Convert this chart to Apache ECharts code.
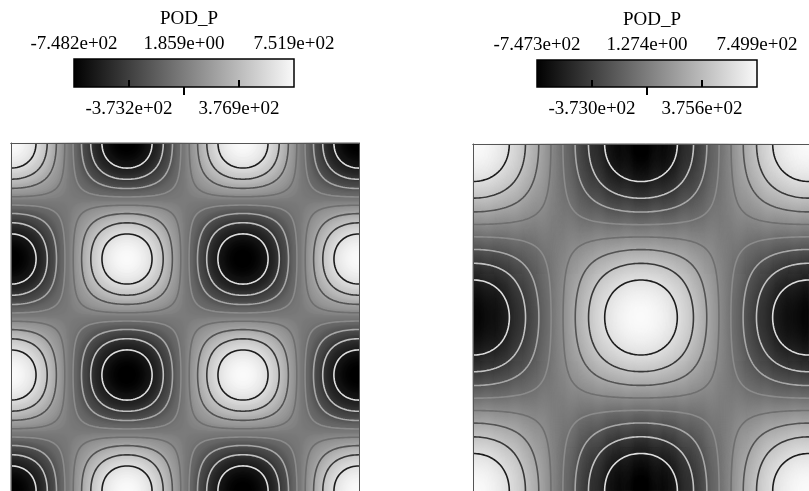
<!DOCTYPE html>
<html>
<head>
<meta charset="utf-8">
<script src="https://cdn.jsdelivr.net/npm/echarts@6/dist/echarts.min.js"></script>
<style>
  html, body { margin: 0; padding: 0; background: #fff; }
  #chart { width: 809px; height: 491px; }
</style>
</head>
<body>
<div id="chart"></div>
<script>
// Pressure POD modes (POD_P): colour-bar ranges and tick values
const leftRange = [-748.2, 751.9];
const leftTicks = [-748.2, -373.2, 1.859, 376.9, 751.9];
const rightRange = [-747.3, 749.9];
const rightTicks = [-747.3, -373.0, 1.274, 375.6, 749.9];

// Mode shape: number of half-waves across the square domain (x and y)
const leftHalfWaves = [3, 3];
const rightHalfWaves = [2, 2];

// Eight contour levels evenly spaced inside each range
const contourCount = 8;

const FONT = 'Liberation Serif';
const N = 348; // sampling cells per side (one per pixel)
const NC = 174; // contouring grid cells per side
const grayMap = ['#000000', '#fafafa'];

function fmtExp(v) {
  const s = Number(v).toExponential(3);
  const parts = s.split('e');
  const sign = parts[1][0];
  const digits = parts[1].slice(1).padStart(2, '0');
  return parts[0] + 'e' + sign + digits;
}

// Standing-wave pressure mode, scaled so its extremes meet the range ends
function modeValue(x, y, range) {
  const v = Math.cos(x) * Math.cos(y);
  return v >= 0 ? v * range[1] : v * (-range[0]);
}

// Marching squares on a (n+1)x(n+1) corner grid, chained into polylines
function contourLines(grid, n, hx, hy, level) {
  const pts = {};
  const segs = [];
  const adj = new Map();
  function edgePoint(id, x0, y0, v0, x1, y1, v1) {
    if (!pts[id]) {
      const t = (level - v0) / (v1 - v0);
      pts[id] = [x0 + t * (x1 - x0), y0 + t * (y1 - y0)];
    }
    return id;
  }
  function addSeg(a, b) {
    const k = segs.length;
    segs.push([a, b]);
    if (!adj.has(a)) adj.set(a, []);
    if (!adj.has(b)) adj.set(b, []);
    adj.get(a).push(k);
    adj.get(b).push(k);
  }
  for (let j = 0; j < n; j++) {
    for (let i = 0; i < n; i++) {
      const va = grid[j][i], vb = grid[j][i + 1], vc = grid[j + 1][i + 1], vd = grid[j + 1][i];
      const A = va > level, B = vb > level, C = vc > level, D = vd > level;
      const x0 = i * hx, x1 = (i + 1) * hx, y0 = j * hy, y1 = (j + 1) * hy;
      const e = {};
      if (A !== B) e.top = edgePoint('h' + i + '_' + j, x0, y0, va, x1, y0, vb);
      if (B !== C) e.right = edgePoint('v' + (i + 1) + '_' + j, x1, y0, vb, x1, y1, vc);
      if (D !== C) e.bottom = edgePoint('h' + i + '_' + (j + 1), x0, y1, vd, x1, y1, vc);
      if (A !== D) e.left = edgePoint('v' + i + '_' + j, x0, y0, va, x0, y1, vd);
      const keys = Object.keys(e);
      if (keys.length === 2) {
        addSeg(e[keys[0]], e[keys[1]]);
      } else if (keys.length === 4) {
        const center = (va + vb + vc + vd) / 4 > level;
        if (center === A) {
          addSeg(e.top, e.right);
          addSeg(e.bottom, e.left);
        } else {
          addSeg(e.top, e.left);
          addSeg(e.right, e.bottom);
        }
      }
    }
  }
  const used = new Array(segs.length).fill(false);
  const lines = [];
  function extend(line) {
    let cur = line[line.length - 1];
    for (;;) {
      const list = adj.get(cur) || [];
      let next = -1;
      for (const k of list) if (!used[k]) { next = k; break; }
      if (next < 0) break;
      used[next] = true;
      const s = segs[next];
      cur = s[0] === cur ? s[1] : s[0];
      line.push(cur);
    }
  }
  for (let s = 0; s < segs.length; s++) {
    if (used[s]) continue;
    used[s] = true;
    const line = [segs[s][0], segs[s][1]];
    extend(line);
    line.reverse();
    extend(line);
    lines.push(line.map(id => pts[id]));
  }
  return lines;
}

const grids = [], xAxes = [], yAxes = [], series = [], visualMaps = [], titles = [];

function buildPanel(cfg) {
  const { range, ticks, halfWaves, plot, bar } = cfg;
  const Lx = halfWaves[0] * Math.PI, Ly = halfWaves[1] * Math.PI;

  // plot grid and colour-bar grid
  const gPlot = grids.length;
  grids.push({ left: plot.left, top: plot.top, width: plot.size, height: plot.size });
  const gBar = grids.length;
  grids.push({
    left: bar.left, top: bar.top, width: bar.width, height: bar.height,
    show: true, borderColor: '#000', borderWidth: 1.5,
    backgroundColor: {
      type: 'linear', x: 0, y: 0, x2: 1, y2: 0,
      colorStops: [{ offset: 0, color: grayMap[0] }, { offset: 1, color: grayMap[1] }]
    }
  });

  const cats = [];
  for (let i = 0; i < N; i++) cats.push(i);
  const frameLine = { show: true, lineStyle: { color: '#555', width: 1 } };
  const hidden = { axisTick: { show: false }, axisLabel: { show: false }, splitLine: { show: false } };

  const xCat = xAxes.length;
  xAxes.push(Object.assign({ gridIndex: gPlot, type: 'category', data: cats, position: 'bottom', z: 10, axisLine: frameLine }, hidden));
  const xVal = xAxes.length;
  xAxes.push(Object.assign({ gridIndex: gPlot, type: 'value', min: 0, max: Lx, position: 'top', z: 10, axisLine: frameLine }, hidden));
  const yCat = yAxes.length;
  yAxes.push(Object.assign({ gridIndex: gPlot, type: 'category', data: cats, inverse: true, position: 'left', z: 10, axisLine: frameLine }, hidden));
  const yVal = yAxes.length;
  yAxes.push(Object.assign({ gridIndex: gPlot, type: 'value', min: 0, max: Ly, inverse: true, position: 'right', z: 10, axisLine: frameLine }, hidden));

  // colour-bar axes: upper labels (min, mid, max), lower labels (quarter points)
  const labelStyle = { fontFamily: FONT, fontSize: 19, color: '#000', formatter: v => fmtExp(v) };
  xAxes.push({ gridIndex: gBar, type: 'value', min: ticks[0], max: ticks[4], position: 'top', z: 10,
    axisLine: { show: false }, splitLine: { show: false },
    axisTick: { show: true, inside: true, length: 8, customValues: [ticks[2]], lineStyle: { color: '#000', width: 2 } },
    axisLabel: Object.assign({ customValues: [ticks[0], ticks[2], ticks[4]], margin: 5 }, labelStyle) });
  xAxes.push({ gridIndex: gBar, type: 'value', min: ticks[0], max: ticks[4], position: 'bottom', z: 10,
    axisLine: { show: false }, splitLine: { show: false },
    axisTick: { show: true, inside: true, length: 7, customValues: [ticks[1], ticks[3]], lineStyle: { color: '#000', width: 2 } },
    axisLabel: Object.assign({ customValues: [ticks[1], ticks[3]], margin: 13 }, labelStyle) });
  yAxes.push({ gridIndex: gBar, type: 'value', show: false, min: 0, max: 1 });

  // field sampled at cell centres for the shaded map
  const heat = [];
  for (let j = 0; j < N; j++) {
    const y = (j + 0.5) / N * Ly;
    for (let i = 0; i < N; i++) {
      const x = (i + 0.5) / N * Lx;
      heat.push([i, j, modeValue(x, y, range)]);
    }
  }
  const heatIndex = series.length;
  series.push({
    type: 'heatmap', xAxisIndex: xCat, yAxisIndex: yCat, data: heat,
    progressive: 0, silent: true, emphasis: { disabled: true }, itemStyle: { borderWidth: 0 }
  });
  visualMaps.push({
    type: 'continuous', show: false, min: range[0], max: range[1],
    seriesIndex: heatIndex, inRange: { color: grayMap }
  });

  // field at contouring-grid corners
  const hx = Lx / NC, hy = Ly / NC;
  const corner = [];
  for (let j = 0; j <= NC; j++) {
    const row = [];
    for (let i = 0; i <= NC; i++) row.push(modeValue(i * hx, j * hy, range));
    corner.push(row);
  }
  for (let k = 1; k <= contourCount; k++) {
    const t = k / (contourCount + 1);
    const level = range[0] + t * (range[1] - range[0]);
    const g = Math.round(250 * (1 - t));
    const color = 'rgb(' + g + ',' + g + ',' + g + ')';
    const polylines = contourLines(corner, NC, hx, hy, level);
    series.push({
      type: 'lines', coordinateSystem: 'cartesian2d', xAxisIndex: xVal, yAxisIndex: yVal,
      polyline: true, silent: true, z: 4,
      lineStyle: { color: color, width: 1.6, opacity: 1 },
      data: polylines.map(c => ({ coords: c }))
    });
  }

  titles.push({
    text: 'POD_P', left: bar.left + bar.width / 2, top: bar.top - 54, textAlign: 'center',
    textStyle: { fontFamily: FONT, fontSize: 19, fontWeight: 'normal', color: '#000' }
  });
}

buildPanel({
  range: leftRange, ticks: leftTicks, halfWaves: leftHalfWaves,
  plot: { left: 11, top: 143, size: 348 },
  bar: { left: 74, top: 59, width: 220, height: 28 }
});
buildPanel({
  range: rightRange, ticks: rightTicks, halfWaves: rightHalfWaves,
  plot: { left: 473, top: 144, size: 348 },
  bar: { left: 537, top: 60, width: 220, height: 27 }
});

const chart = echarts.init(document.getElementById('chart'), null, { renderer: 'canvas' });
chart.setOption({
  animation: false,
  backgroundColor: '#fff',
  title: titles,
  grid: grids,
  xAxis: xAxes,
  yAxis: yAxes,
  visualMap: visualMaps,
  series: series
});
</script>
</body>
</html>
